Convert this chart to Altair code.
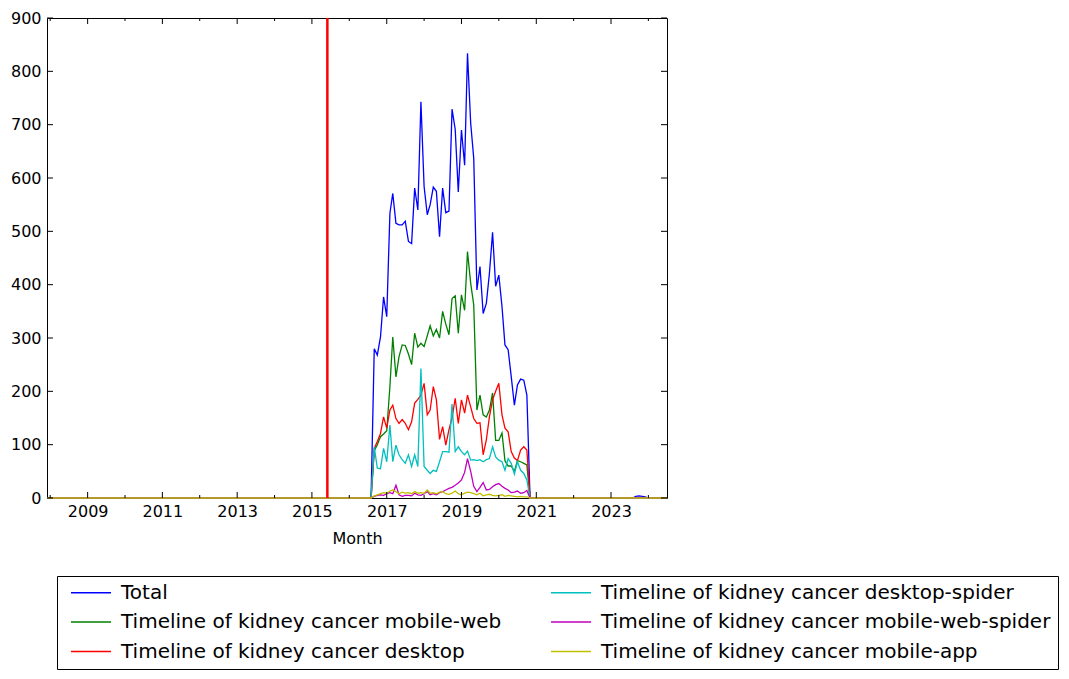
import altair as alt
import pandas as pd

# ---------------- data ----------------
FIRST_MONTH = "2007-12-01"
LAST_MONTH = "2024-07-01"
ACTIVE_START = "2016-09-01"   # first month with page views
VLINE_DATE = "2015-06-01"

series_names = [
    "Total",
    "Timeline of kidney cancer mobile-web",
    "Timeline of kidney cancer desktop",
    "Timeline of kidney cancer desktop-spider",
    "Timeline of kidney cancer mobile-web-spider",
    "Timeline of kidney cancer mobile-app",
]
series_colors = ["#0000ff", "#008000", "#ff0000", "#00bfbf", "#bf00bf", "#bfbf00"]

# monthly values Sep 2016 .. Oct 2020
total_vals = [280, 268, 302, 377, 340, 534, 571, 515, 512, 512, 519, 481, 477, 581, 540,
              743, 584, 531, 550, 583, 575, 490, 581, 535, 538, 729, 691, 574, 690, 624,
              834, 703, 637, 390, 434, 346, 365, 421, 498, 397, 418, 359, 287, 278, 228,
              174, 212, 223, 221, 193]
mobile_web_vals = [88, 100, 115, 120, 126, 209, 302, 227, 265, 287, 286, 270, 250, 309, 283,
                   290, 284, 304, 323, 304, 316, 300, 350, 326, 306, 374, 379, 309, 381, 352,
                   462, 403, 362, 165, 193, 156, 152, 165, 197, 108, 108, 122, 70, 60, 60,
                   50, 70, 68, 65, 62]
desktop_vals = [93, 106, 121, 152, 131, 165, 174, 149, 140, 147, 140, 128, 143, 178, 185,
                193, 215, 156, 165, 209, 184, 110, 134, 99, 128, 150, 187, 140, 184, 159,
                193, 171, 149, 140, 141, 81, 109, 152, 184, 200, 215, 156, 131, 124, 87,
                75, 70, 90, 96, 90]
desktop_spider_vals = [96, 56, 55, 93, 68, 137, 68, 99, 81, 72, 65, 81, 59, 81, 59,
                       243, 59, 52, 46, 52, 50, 68, 87, 87, 86, 176, 87, 96, 87, 81,
                       88, 71, 72, 70, 72, 68, 72, 74, 96, 77, 71, 68, 52, 74, 65,
                       45, 68, 52, 46, 34]
mobile_web_spider_vals = [3, 5, 6, 5, 8, 10, 8, 24, 6, 3, 5, 5, 4, 9, 6,
                          5, 8, 12, 6, 8, 6, 10, 12, 15, 18, 20, 24, 28, 34, 48,
                          74, 50, 22, 12, 20, 29, 15, 16, 21, 25, 27, 22, 18, 15, 10,
                          11, 13, 9, 10, 14]
mobile_app_vals = [4, 6, 8, 10, 9, 13, 15, 12, 8, 11, 9, 10, 8, 12, 9,
                   10, 9, 15, 9, 10, 8, 11, 12, 8, 7, 9, 13, 8, 6, 9,
                   11, 10, 8, 6, 9, 4, 6, 7, 5, 4, 5, 6, 3, 5, 4,
                   3, 2, 3, 2, 2]

# small late blips (month -> value)
blip_months = ["2023-09-01", "2023-10-01", "2023-11-01", "2023-12-01"]
total_blips = [3, 4, 3, 2]
mobile_web_spider_blips = [0, 1, 1, 0]

series_values = [total_vals, mobile_web_vals, desktop_vals,
                 desktop_spider_vals, mobile_web_spider_vals, mobile_app_vals]
series_blips = [total_blips, [0, 0, 0, 0], [0, 0, 0, 0], [0, 0, 0, 0],
                mobile_web_spider_blips, [0, 0, 0, 0]]

y_tick_values = [0, 100, 200, 300, 400, 500, 600, 700, 800, 900]
x_major_years = [2009, 2011, 2013, 2015, 2017, 2019, 2021, 2023]
x_minor_years = [2008, 2010, 2012, 2014, 2016, 2018, 2020, 2022, 2024]

# ---------------- build table ----------------
months = pd.date_range(FIRST_MONTH, LAST_MONTH, freq="MS")
month_str = months.strftime("%Y-%m-%d").tolist()
start_idx = month_str.index(ACTIVE_START)

rows = []
for name, vals, blips in zip(series_names, series_values, series_blips):
    full = [0] * len(month_str)
    for i, v in enumerate(vals):
        full[start_idx + i] = v
    for m, v in zip(blip_months, blips):
        full[month_str.index(m)] = v
    for m, v in zip(month_str, full):
        rows.append({"date": m, "series": name, "value": v})
df = pd.DataFrame(rows)

W, H = 620, 480
FONT = "DejaVu Sans"

xscale = alt.Scale(type="utc", domain=[FIRST_MONTH, LAST_MONTH], nice=False)
yscale = alt.Scale(domain=[0, 900], nice=False)

color_enc = alt.Color(
    "series:N",
    title=None,
    scale=alt.Scale(domain=series_names, range=series_colors),
    legend=alt.Legend(
        orient="none", legendX=10, legendY=558, columns=2,
        symbolType="stroke", symbolSize=1600, symbolStrokeWidth=1.3,
        labelFontSize=20, labelFont=FONT, labelColor="black", labelLimit=1000,
        labelOffset=9, strokeColor="black", fillColor="white",
        padding=7, rowPadding=8.5, columnPadding=42, clipHeight=19, symbolOffset=6,
    ),
)

x_axis = alt.Axis(values=[f"{y}-01-01" for y in x_major_years], format="%Y",
                  ticks=False, domain=False, grid=False, labelFont=FONT,
                  labelFontSize=16, labelColor="black", labelPadding=5,
                  title="Month", titleFont=FONT, titleFontSize=16,
                  titleFontWeight="normal", titleColor="black", titlePadding=11,
                  labelFlush=False, labelOverlap=False)
y_axis = alt.Axis(values=y_tick_values, ticks=False, domain=False, grid=False,
                  labelFont=FONT, labelFontSize=16, labelColor="black",
                  labelPadding=6, title=None, labelFlush=False)

layers = []
for s in series_names:
    layers.append(
        alt.Chart(df).transform_filter(alt.datum.series == s)
        .mark_line(strokeWidth=1.3)
        .encode(
            x=alt.X("date:T", scale=xscale, axis=x_axis),
            y=alt.Y("value:Q", scale=yscale, axis=y_axis),
            color=color_enc,
        )
    )

vline = alt.Chart(pd.DataFrame({"date": [VLINE_DATE]})).mark_rule(
    color="#ff0000", strokeWidth=2.5).encode(x=alt.X("date:T", scale=xscale, axis=x_axis))

xmaj = pd.DataFrame({"date": [f"{y}-01-01" for y in x_major_years]})
xmin = pd.DataFrame({"date": [f"{y}-01-01" for y in x_minor_years]})
ytk = pd.DataFrame({"value": y_tick_values})

def xticks(data, y0, y1):
    return alt.Chart(data).mark_rule(color="black", strokeWidth=1).encode(
        x=alt.X("date:T", scale=xscale, axis=x_axis), y=alt.value(y0), y2=alt.value(y1))

def yticks(x0, x1):
    return alt.Chart(ytk).mark_rule(color="black", strokeWidth=1).encode(
        y=alt.Y("value:Q", scale=yscale, axis=y_axis), x=alt.value(x0), x2=alt.value(x1))

ticks = [
    xticks(xmaj, H, H - 6), xticks(xmaj, 0, 6),
    xticks(xmin, H, H - 3), xticks(xmin, 0, 3),
    yticks(0, 6), yticks(W, W - 6),
]

chart = alt.layer(*layers, vline, *ticks).properties(
    width=W, height=H,
    padding={"left": 39, "top": 10, "right": 394, "bottom": 173},
    autosize=alt.AutoSizeParams(type="none"),
    background="white",
).configure_view(stroke="black", strokeWidth=1)

chart.save("out.html", embed_options={"renderer": "svg", "actions": False})
